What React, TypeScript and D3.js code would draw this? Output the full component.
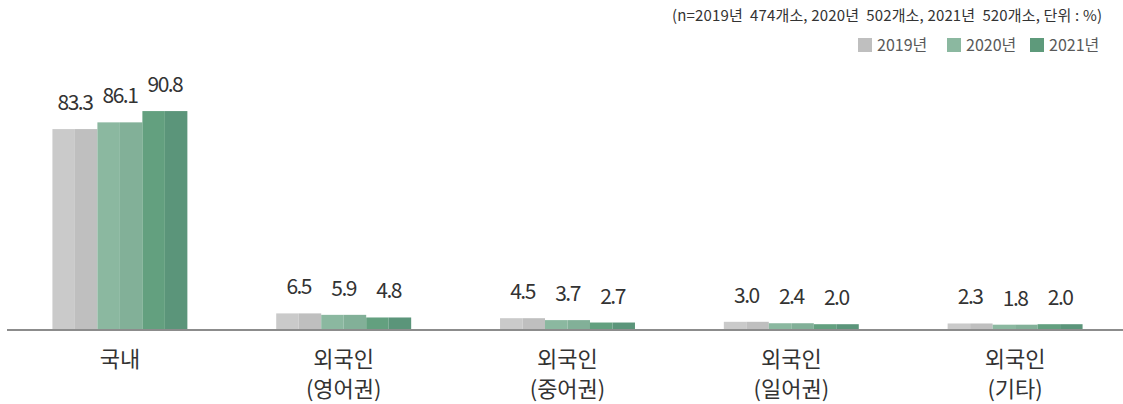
import React from "react";
import * as d3 from "d3";

const categories = ["국내", "외국인\n(영어권)", "외국인\n(중어권)", "외국인\n(일어권)", "외국인\n(기타)"];
const seriesNames = ["2019년", "2020년", "2021년"];
const values2019 = [83.3, 6.5, 4.5, 3.0, 2.3];
const values2020 = [86.1, 5.9, 3.7, 2.4, 1.8];
const values2021 = [90.8, 4.8, 2.7, 2.0, 2.0];
const note = "(n=2019년  474개소, 2020년  502개소, 2021년  520개소, 단위 : %)";

const W = 1123;
const H = 404;
const lightColors = ["#cacaca", "#8bb8a0", "#63a07f"];
const darkColors = ["#bfbfbf", "#82b098", "#5b957a"];
const legendColors = ["#bfbfbf", "#8bb8a0", "#5e9a7b"];
const font = "'Noto Sans CJK KR', 'Noto Sans', sans-serif";

export default function App() {
  const series = [values2019, values2020, values2021];
  const baseY = 329;
  const x0 = d3.scaleBand<string>().domain(categories).range([8, 1127]).paddingInner(0.397).paddingOuter(0.1985);
  const x1 = d3.scaleBand<string>().domain(seriesNames).range([0, x0.bandwidth()]);
  const y = d3.scaleLinear().domain([0, 100]).range([baseY, baseY - 240]);
  const fmt = d3.format(".1f");

  const legendX = [858, 947, 1030];

  return (
    <svg width={W} height={H} style={{ position: "absolute", left: 0, top: 0, background: "#fff" }}>
      <text x={672} y={21} textLength={430} lengthAdjust="spacing" fontFamily={font} fontSize={15} fill="#333" xmlSpace="preserve" style={{ whiteSpace: "pre" }}>
        {note}
      </text>
      {seriesNames.map((s, i) => (
        <g key={s}>
          <rect x={legendX[i]} y={38} width={14} height={14} fill={legendColors[i]} />
          <text x={legendX[i] + 19} y={51} fontFamily={font} fontSize={16} fill="#595959">{s}</text>
        </g>
      ))}
      {categories.map((c, ci) => (
        <g key={c} transform={`translate(${x0(c)},0)`}>
          {seriesNames.map((s, si) => {
            const v = series[si][ci];
            const bx = x1(s)!;
            const bw = x1.bandwidth();
            const top = y(v);
            const h = baseY - top;
            return (
              <g key={s}>
                <rect x={bx} y={top} width={bw / 2} height={h} fill={lightColors[si]} />
                <rect x={bx + bw / 2} y={top} width={bw / 2} height={h} fill={darkColors[si]} />
                <text x={bx + bw / 2} y={top - 19} textAnchor="middle" fontFamily={font} fontSize={21} fill="#333" letterSpacing={-1.5}>
                  {fmt(v)}
                </text>
              </g>
            );
          })}
          {c.split("\n").map((line, li) => (
            <text key={li} x={x0.bandwidth() / 2} y={367 + li * 30} textAnchor="middle" fontFamily={font} fontSize={22} fill="#333">
              {line}
            </text>
          ))}
        </g>
      ))}
      <line x1={7} x2={1123} y1={330} y2={330} stroke="#8c8c8c" strokeWidth={2} />
    </svg>
  );
}
